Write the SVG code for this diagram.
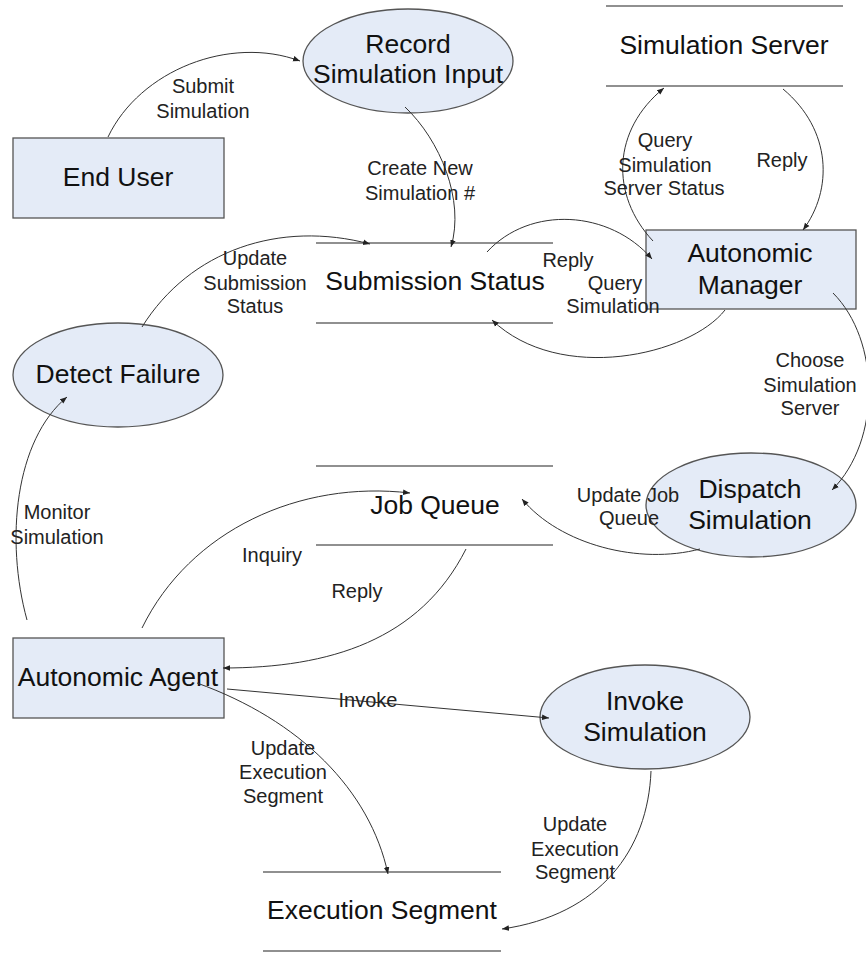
<svg xmlns="http://www.w3.org/2000/svg" width="866" height="953" viewBox="0 0 866 953">
  <defs>
    <marker id="arrow" viewBox="0 0 10 10" refX="10" refY="5" markerWidth="7" markerHeight="7" markerUnits="userSpaceOnUse" orient="auto">
      <path d="M0,1 L10,5 L0,9 z" fill="#222"/>
    </marker>
    <style>
      .box { fill: #e4ebf7; stroke: #555; stroke-width: 1.3; }
      .store { stroke: #222; stroke-width: 1.2; }
      .big { font-family: "Liberation Sans", Arial, sans-serif; font-size: 26.5px; fill: #111; text-anchor: middle; }
      .lbl { font-family: "Liberation Sans", Arial, sans-serif; font-size: 20px; fill: #222; text-anchor: middle; }
      .flow { fill: none; stroke: #333; stroke-width: 1; marker-end: url(#arrow); }
    </style>
  </defs>
  <rect width="866" height="953" fill="#fff"/>

  <!-- external entities -->
  <g id="end-user">
    <rect class="box" x="13" y="138" width="211" height="80"/>
    <text class="big" x="118" y="186">End User</text>
  </g>
  <g id="autonomic-manager">
    <rect class="box" x="646" y="230" width="210" height="79"/>
    <text class="big" x="750" y="262">Autonomic</text>
    <text class="big" x="750" y="294">Manager</text>
  </g>
  <g id="autonomic-agent">
    <rect class="box" x="13" y="638" width="211" height="80"/>
    <text class="big" x="118" y="686">Autonomic Agent</text>
  </g>

  <!-- processes -->
  <g id="record-simulation-input">
    <ellipse class="box" cx="408" cy="61" rx="105" ry="52"/>
    <text class="big" x="408" y="53">Record</text>
    <text class="big" x="408" y="83">Simulation Input</text>
  </g>
  <g id="detect-failure">
    <ellipse class="box" cx="118" cy="375" rx="105" ry="52"/>
    <text class="big" x="118" y="383">Detect Failure</text>
  </g>
  <g id="dispatch-simulation">
    <ellipse class="box" cx="751" cy="505" rx="105" ry="52"/>
    <text class="big" x="750" y="498">Dispatch</text>
    <text class="big" x="750" y="529">Simulation</text>
  </g>
  <g id="invoke-simulation">
    <ellipse class="box" cx="645" cy="717" rx="105" ry="52"/>
    <text class="big" x="645" y="710">Invoke</text>
    <text class="big" x="645" y="741">Simulation</text>
  </g>

  <!-- data stores -->
  <g id="simulation-server">
    <line class="store" x1="606" y1="6" x2="843" y2="6"/>
    <line class="store" x1="606" y1="86" x2="843" y2="86"/>
    <text class="big" x="724" y="54">Simulation Server</text>
  </g>
  <g id="submission-status">
    <line class="store" x1="316" y1="243" x2="553" y2="243"/>
    <line class="store" x1="316" y1="323" x2="553" y2="323"/>
    <text class="big" x="435" y="290">Submission Status</text>
  </g>
  <g id="job-queue">
    <line class="store" x1="316" y1="466" x2="553" y2="466"/>
    <line class="store" x1="316" y1="545" x2="553" y2="545"/>
    <text class="big" x="435" y="514">Job Queue</text>
  </g>
  <g id="execution-segment">
    <line class="store" x1="263" y1="872" x2="501" y2="872"/>
    <line class="store" x1="263" y1="951" x2="501" y2="951"/>
    <text class="big" x="382" y="919">Execution Segment</text>
  </g>

  <!-- data flows -->
  <g id="connectors">
    <path class="flow" d="M108,137 C140,70 230,35 300,61"/>
    <path class="flow" d="M405,107 C440,140 465,200 451,247"/>
    <path class="flow" d="M142,327 C190,250 280,220 370,244"/>
    <path class="flow" d="M653,241 C610,195 612,130 664,88"/>
    <path class="flow" d="M783,89 C832,130 833,190 803,230"/>
    <path class="flow" d="M487,252 C530,205 610,210 652,259"/>
    <path class="flow" d="M725,310 C690,355 560,385 492,320"/>
    <path class="flow" d="M833,293 C880,340 882,440 832,490"/>
    <path class="flow" d="M700,549 C640,565 560,545 522,499"/>
    <path class="flow" d="M27,620 C5,540 15,440 67,397"/>
    <path class="flow" d="M142,628 C190,530 300,480 410,493"/>
    <path class="flow" d="M466,549 C420,640 330,668 223,668"/>
    <path class="flow" d="M227,689 L549,718"/>
    <path class="flow" d="M197,683 C300,720 370,790 388,874"/>
    <path class="flow" d="M651,771 C648,850 600,915 502,929"/>
  </g>

  <!-- flow labels -->
  <g id="labels">
    <text class="lbl" x="203" y="93">Submit</text>
    <text class="lbl" x="203" y="118">Simulation</text>
    <text class="lbl" x="420" y="175">Create New</text>
    <text class="lbl" x="420" y="200">Simulation #</text>
    <text class="lbl" x="255" y="265">Update</text>
    <text class="lbl" x="255" y="290">Submission</text>
    <text class="lbl" x="255" y="313">Status</text>
    <text class="lbl" x="665" y="147">Query</text>
    <text class="lbl" x="665" y="172">Simulation</text>
    <text class="lbl" x="664" y="195">Server Status</text>
    <text class="lbl" x="782" y="167">Reply</text>
    <text class="lbl" x="568" y="267">Reply</text>
    <text class="lbl" x="615" y="290">Query</text>
    <text class="lbl" x="613" y="313">Simulation</text>
    <text class="lbl" x="810" y="367">Choose</text>
    <text class="lbl" x="810" y="392">Simulation</text>
    <text class="lbl" x="810" y="415">Server</text>
    <text class="lbl" x="628" y="502">Update Job</text>
    <text class="lbl" x="629" y="525">Queue</text>
    <text class="lbl" x="57" y="519">Monitor</text>
    <text class="lbl" x="57" y="544">Simulation</text>
    <text class="lbl" x="272" y="562">Inquiry</text>
    <text class="lbl" x="357" y="598">Reply</text>
    <text class="lbl" x="368" y="707">Invoke</text>
    <text class="lbl" x="283" y="755">Update</text>
    <text class="lbl" x="283" y="779">Execution</text>
    <text class="lbl" x="283" y="803">Segment</text>
    <text class="lbl" x="575" y="831">Update</text>
    <text class="lbl" x="575" y="856">Execution</text>
    <text class="lbl" x="575" y="879">Segment</text>
  </g>
</svg>
